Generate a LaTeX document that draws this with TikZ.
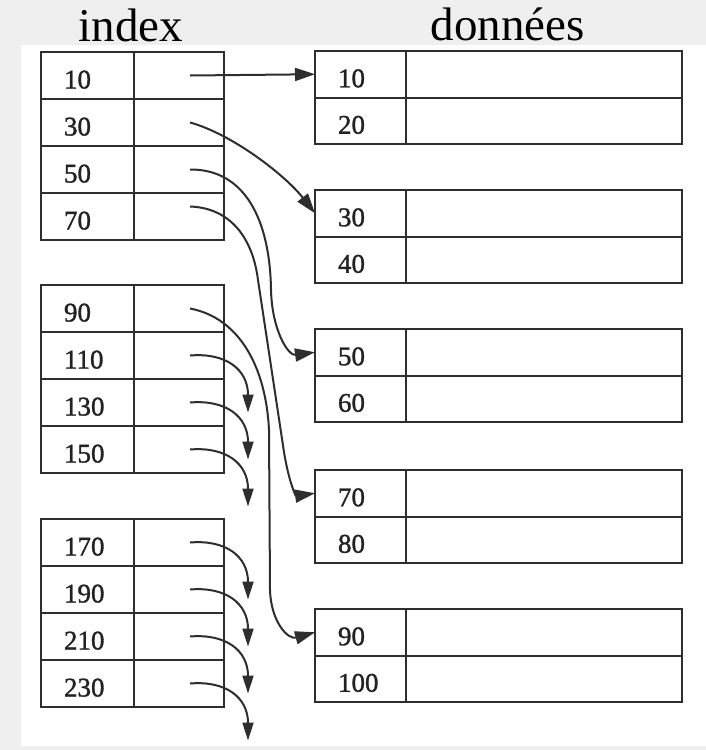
\documentclass[tikz,border=0pt]{standalone}
\usepackage{fontspec}
\setmainfont{Liberation Serif}
\newfontfamily\numff{Liberation Serif}[FakeBold=1.2]
\usetikzlibrary{arrows.meta}
\definecolor{bgc}{HTML}{EFEFEF}
\definecolor{linec}{HTML}{2E2E2E}
\definecolor{txtc}{HTML}{222222}
\newcommand\nfsz{\numff\fontsize{27}{29}\selectfont}
\newcommand\tfsz{\fontsize{47}{50}\selectfont}
\begin{document}
\begin{tikzpicture}[x=1pt,y=-1pt,
  cell/.style={draw=linec, line width=2pt, inner sep=0pt, outer sep=0pt, minimum height=47pt},
  ikey/.style={cell, minimum width=93pt, text width=47pt, inner xsep=23pt, align=left,
               text height=26pt, text depth=0pt, font=\nfsz, text=txtc},
  iptr/.style={cell, minimum width=90pt},
  dkey/.style={cell, minimum height=46.5pt, minimum width=91pt, text width=45pt, inner xsep=23pt, align=left,
               text height=26pt, text depth=0pt, font=\nfsz, text=txtc},
  dval/.style={cell, minimum height=46.5pt, minimum width=276pt},
  title/.style={font=\tfsz, text=black, anchor=base, inner sep=0pt},
  arr/.style={draw=linec, line width=2pt, -{Triangle[length=20pt,width=13pt]}},
  arrb/.style={draw=linec, line width=2pt, -{Triangle[length=18pt,width=11pt]}}
]
\useasboundingbox (0,0) rectangle (706,750);
\fill[bgc] (0,0) rectangle (706,750);
\fill[white] (21,45) rectangle (706,746);

\node[title] (tindex) at (131,41) {index};
\node[title] (tdata) at (508,40) {données};

% index blocks
\foreach \v/\yc in {10/75.5,30/122.5,50/169.5,70/216.5,
                    90/308.5,110/355.5,130/402.5,150/449.5,
                    170/542.5,190/589.5,210/636.5,230/683.5}{
  \node[ikey] (k\v) at (87.5,\yc) {\v};
  \node[iptr] (p\v) at (179,\yc) {};
}

% data blocks
\foreach \v/\yc in {10/74.25,20/120.75,30/213.25,40/259.75,50/352.25,60/398.75,
                    70/493.25,80/539.75,90/632.25,100/678.75}{
  \node[dkey] (d\v) at (360.5,\yc) {\v};
  \node[dval] (v\v) at (544,\yc) {};
}

% pointers to data
\draw[arr] ([xshift=11pt]p10.center) -- (d10.west);
\draw[arr] ([xshift=11pt]p30.center) .. controls (232,134) and (285,175) .. (d30.west);
\draw[arr] ([xshift=11pt]p50.center) .. controls (245,169) and (270,220) .. (271,290)
           .. controls (272,330) and (288,356) .. (d50.west);
\draw[arr] ([xshift=11pt,yshift=10pt]p70.center) .. controls (232,208) and (253,240) .. (258,280)
           -- (284,452) .. controls (289,483) and (296,496) .. (d70.west);
\draw[arr] ([xshift=11pt]p90.center) .. controls (240,318) and (266,368) .. (269,430)
           -- (270,590) .. controls (271,622) and (288,640) .. (d90.west);

% chained pointers
\coordinate (e110) at (248,412.5);
\coordinate (e130) at (248,459.5);
\coordinate (e150) at (248,506.5);
\coordinate (e170) at (248,599.5);
\coordinate (e190) at (248,646.5);
\coordinate (e210) at (248,693.5);
\coordinate (e230) at (248,740.5);
\draw[arrb] ([xshift=11pt]p110.center) .. controls (226,352.5) and (248,369.5) .. (e110);
\draw[arrb] ([xshift=11pt]p130.center) .. controls (226,399.5) and (248,416.5) .. (e130);
\draw[arrb] ([xshift=11pt]p150.center) .. controls (226,446.5) and (248,463.5) .. (e150);
\draw[arrb] ([xshift=11pt]p170.center) .. controls (226,539.5) and (248,556.5) .. (e170);
\draw[arrb] ([xshift=11pt]p190.center) .. controls (226,586.5) and (248,603.5) .. (e190);
\draw[arrb] ([xshift=11pt]p210.center) .. controls (226,633.5) and (248,650.5) .. (e210);
\draw[arrb] ([xshift=11pt]p230.center) .. controls (226,680.5) and (248,697.5) .. (e230);
\end{tikzpicture}
\end{document}
